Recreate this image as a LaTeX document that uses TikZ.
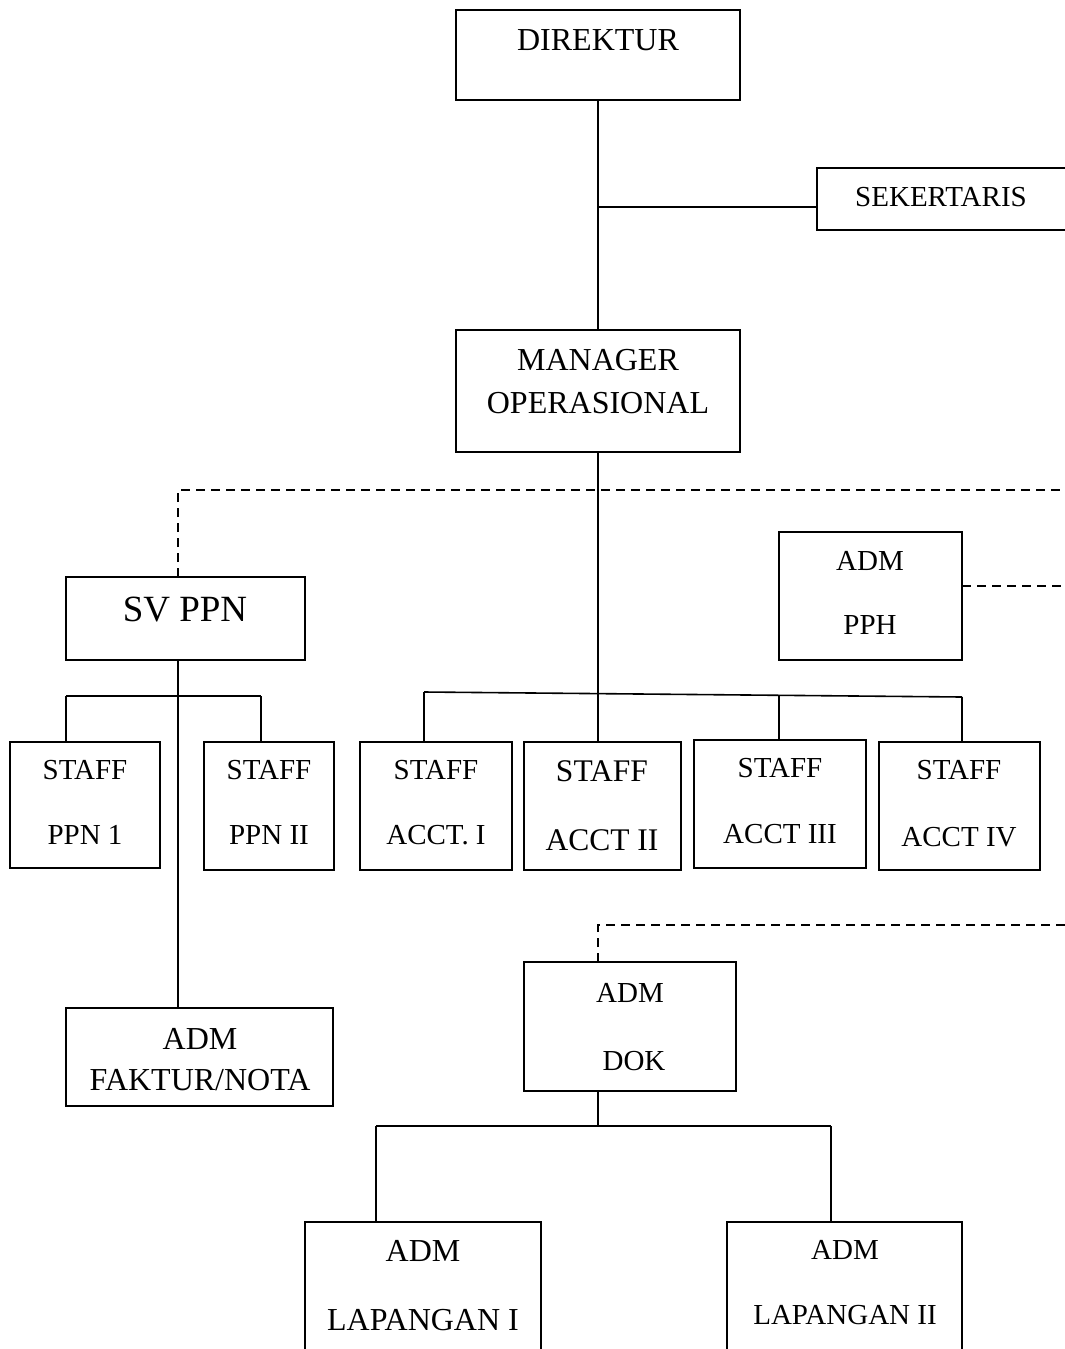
\documentclass[tikz,border=0pt]{standalone}
\usepackage{fontspec}
\setmainfont{Liberation Serif}
\begin{document}
\begin{tikzpicture}[x=1pt,y=-1pt,
  box/.style={draw,line width=1.6pt,inner sep=0pt,outer sep=0pt,rectangle},
  txt/.style={inner sep=0pt,font=\fontsize{29}{34}\selectfont},
  lgtxt/.style={inner sep=0pt,font=\fontsize{32}{37}\selectfont},
  bigtxt/.style={inner sep=0pt,font=\fontsize{37}{42}\selectfont},
  midtxt/.style={inner sep=0pt,font=\fontsize{31.5}{36}\selectfont},
  conn/.style={line width=1.6pt},
  dconn/.style={line width=1.6pt,dash pattern=on 9pt off 6pt}]
\useasboundingbox (0,0) rectangle (1065,1349);
\clip (0,0) rectangle (1065,1349);
% boxes
\node[box,minimum width=284pt,minimum height=90pt] (dir) at (598,55) {};
\node[box,minimum width=300pt,minimum height=62pt] (sek) at (967,199) {};
\node[box,minimum width=284pt,minimum height=122pt] (mgr) at (598,391) {};
\node[box,minimum width=239pt,minimum height=83pt] (sv) at (185.5,618.5) {};
\node[box,minimum width=183pt,minimum height=128pt] (pph) at (870.5,596) {};
\node[box,minimum width=150pt,minimum height=126pt] (p1) at (85,805) {};
\node[box,minimum width=130pt,minimum height=128pt] (p2) at (269,806) {};
\node[box,minimum width=152pt,minimum height=128pt] (a1) at (436,806) {};
\node[box,minimum width=157pt,minimum height=128pt] (a2) at (602.5,806) {};
\node[box,minimum width=172pt,minimum height=128pt] (a3) at (780,804) {};
\node[box,minimum width=161pt,minimum height=128pt] (a4) at (959.5,806) {};
\node[box,minimum width=267pt,minimum height=98pt] (fak) at (199.5,1057) {};
\node[box,minimum width=212pt,minimum height=129pt] (dok) at (630,1026.5) {};
\node[box,minimum width=236pt,minimum height=180pt] (l1) at (423,1312) {};
\node[box,minimum width=235pt,minimum height=180pt] (l2) at (844.5,1312) {};
% texts
\node[lgtxt] at (598,40) {DIREKTUR};
\node[txt] at (941,197) {SEKERTARIS};
\node[lgtxt] at (598,360) {MANAGER};
\node[lgtxt] at (598,403) {OPERASIONAL};
\node[bigtxt] at (185,610) {SV PPN};
\node[txt] at (870,561) {ADM};
\node[txt] at (870,625) {PPH};
\node[txt] at (85,770) {STAFF};
\node[txt] at (85,835) {PPN 1};
\node[txt] at (269,770) {STAFF};
\node[txt] at (269,835) {PPN II};
\node[txt] at (436,770) {STAFF};
\node[txt] at (436,835) {ACCT. I};
\node[midtxt] at (602,771) {STAFF};
\node[midtxt] at (602,840) {ACCT II};
\node[txt] at (780,768) {STAFF};
\node[txt] at (780,834) {ACCT III};
\node[txt] at (959,770) {STAFF};
\node[txt] at (959,837) {ACCT IV};
\node[lgtxt] at (200,1039) {ADM};
\node[lgtxt] at (200,1080) {FAKTUR/NOTA};
\node[txt] at (630,993) {ADM};
\node[txt] at (634,1061) {DOK};
\node[lgtxt] at (423,1251) {ADM};
\node[lgtxt] at (423,1320) {LAPANGAN I};
\node[txt] at (845,1250) {ADM};
\node[txt] at (845,1315) {LAPANGAN II};
% junction coordinates
\coordinate (jsek) at (598,207);
\coordinate (jsv) at (178,490);
\coordinate (edge1) at (1070,490);
\coordinate (edge2) at (1070,586);
\coordinate (jdok) at (598,925);
\coordinate (edge3) at (1070,925);
\coordinate (pl) at (66,696);
\coordinate (pr) at (261,696);
\coordinate (bl) at (424,692);
\coordinate (br) at (962,697);
\coordinate (b3) at (779,695);
\coordinate (svb) at (178,660);
\coordinate (ll) at (376,1126);
\coordinate (lr) at (831,1126);
% connectors
\draw[conn] (dir.south) -- (mgr.north);
\draw[conn] (jsek) -- (jsek -| sek.west);
\draw[conn] (mgr.south) -- (mgr.south |- a2.north);
\draw[conn] (bl) -- (br);
\draw[conn] (bl) -- (bl |- a1.north);
\draw[conn] (b3) -- (b3 |- a3.north);
\draw[conn] (br) -- (br |- a4.north);
\draw[conn] (svb) -- (svb |- fak.north);
\draw[conn] (pl) -- (pr);
\draw[conn] (pl) -- (pl |- p1.north);
\draw[conn] (pr) -- (pr |- p2.north);
\draw[conn] (dok.south -| jdok) -- (jdok |- ll);
\draw[conn] (ll) -- (lr);
\draw[conn] (ll) -- (ll |- l1.north);
\draw[conn] (lr) -- (lr |- l2.north);
\draw[dconn] (svb |- sv.north) -- (jsv) -- (edge1);
\draw[dconn] (pph.east |- edge2) -- (edge2);
\draw[dconn] (jdok |- dok.north) -- (jdok) -- (edge3);
\end{tikzpicture}
\end{document}
